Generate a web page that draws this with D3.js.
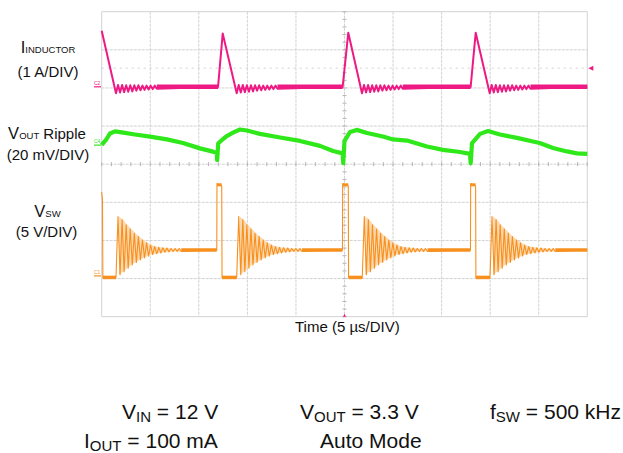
<!DOCTYPE html>
<html>
<head>
<meta charset="utf-8">
<script src="https://cdn.jsdelivr.net/npm/d3@7"></script>
<style>
html,body{margin:0;padding:0;background:#fff;}
svg{display:block;font-family:"Liberation Sans",Arial,sans-serif;}
</style>
</head>
<body>
<svg id="chart" width="623" height="453"></svg>
<script>
// ---------- data ----------
// time axis: 5 us/div, 10 divisions
const timeDivs = [0, 5, 10, 15, 20, 25, 30, 35, 40, 45, 50];
const voltDivs = [-4, -3, -2, -1, 0, 1, 2, 3, 4];

// Inductor current (A), 1 A/div
const iPeakT = [0, 12.46, 25.39, 38.51];
const iPeakA = [1.47, 1.40, 1.42, 1.42];
const iRiseT = [null, 11.98, 24.81, 37.99];
const iZeroT = [1.47, 13.90, 26.80, 39.95];
const iRingLow = [-0.17, -0.15, -0.14, -0.13, -0.12, -0.10, -0.09, -0.08, -0.07, -0.06, -0.05];
const iRingHigh = [0.05, 0.05, 0.05, 0.04, 0.04, 0.04, 0.04, 0.03, 0.03, 0.03, 0.03];
const iTrigA = 0.49;

// Output voltage ripple (mV), 20 mV/div : [time us, mV]
const vOut = [
  [0.0, 0.1], [0.44, 2.7], [0.85, 6.1], [1.37, 7.2], [2.40, 6.4], [3.43, 5.6],
  [4.97, 4.5], [6.72, 3.0], [8.37, 1.1], [10.12, -1.7], [11.46, -3.4], [11.84, -4.1],
  [11.89, -7.8], [12.00, 1.0], [12.39, 2.7], [12.90, 4.8], [13.52, 6.6], [14.24, 8.2],
  [14.96, 7.7], [16.30, 5.9], [18.36, 4.0], [20.42, 2.2], [22.48, -0.4], [23.82, -3.1],
  [24.81, -4.3], [24.87, -9.4], [25.00, 2.2], [25.57, 6.9], [26.26, 8.0], [27.32, 6.4],
  [28.96, 4.5], [29.99, 3.0], [31.44, 2.4], [33.50, -0.7], [35.14, -2.5], [36.90, -3.6],
  [37.92, -4.6], [37.99, -9.4], [38.13, 1.1], [38.96, 5.9], [39.78, 7.4], [41.00, 5.6],
  [42.76, 3.8], [44.40, 1.9], [45.10, 1.1], [46.47, -1.5], [47.90, -3.3], [48.94, -4.3],
  [50.0, -4.6]
];

// Switch node voltage (V), 5 V/div
const swStart = [[0, 11.0], [0.08, 10.0], [0.12, -0.2]];
const swHighT = [[11.87, 12.36], [24.81, 25.39], [37.99, 38.50]];
const swHighV = [12.1, 11.8];
const swLowV = -0.2;
const swSettleV = 3.4;
const swRingStart = [1.47, 13.90, 26.83, 39.98];
const swRingPeaks = [7.8, 7.35, 6.7, 6.15, 5.6, 5.15, 4.7, 4.35, 4.05, 3.85, 3.75, 3.7, 3.65, 3.6, 3.6, 3.6];
const swRingTroughs = [0.15, 0.55, 1.0, 1.45, 1.75, 2.1, 2.35, 2.6, 2.8, 2.9, 3.0, 3.1, 3.15, 3.2, 3.2, 3.2];
const ringHalfPeriod = 0.21;

// channel offsets in divisions
const chOffset = {C2: 2.03, C4: 0.5, C1: -2.93};
const chScale = {C2: 1, C4: 20, C1: 5};

// ---------- drawing ----------
const svg = d3.select("#chart");
const L = 101.7, R = 587.3, T = 11.7, B = 316.7;
const x = d3.scaleLinear().domain([0, 50]).range([L, R]);
const y = d3.scaleLinear().domain([-4, 4]).range([B, T]);
const yCh = (ch, v) => y(chOffset[ch] + v / chScale[ch]);

const PINK = "#ee1a84", GREEN = "#2ee81a", ORANGE = "#f7901e";

// grid
const g = svg.append("g");
g.selectAll(".vg").data(timeDivs).join("line")
  .attr("x1", d => x(d)).attr("x2", d => x(d)).attr("y1", T).attr("y2", B)
  .attr("stroke", "#d2d2d2").attr("stroke-width", 1)
  .attr("stroke-dasharray", d => (d === 0 || d === 50) ? null : "3,1");
g.selectAll(".hg").data(voltDivs).join("line")
  .attr("x1", L).attr("x2", R).attr("y1", d => y(d)).attr("y2", d => y(d))
  .attr("stroke", "#d2d2d2").attr("stroke-width", 1)
  .attr("stroke-dasharray", d => (d === -4 || d === 4) ? null : "3,1");
// center axes minor ticks
g.selectAll(".mx").data(d3.range(0, 50.001, 1)).join("line")
  .attr("x1", d => x(d)).attr("x2", d => x(d)).attr("y1", y(0) - 2).attr("y2", y(0) + 2)
  .attr("stroke", "#b4b4b4");
g.selectAll(".my").data(d3.range(-4, 4.001, 0.2)).join("line")
  .attr("x1", x(25) - 2).attr("x2", x(25) + 2).attr("y1", d => y(d)).attr("y2", d => y(d))
  .attr("stroke", "#b4b4b4");
// trigger level dotted line
g.append("line").attr("x1", L).attr("x2", R)
  .attr("y1", yCh("C2", iTrigA)).attr("y2", yCh("C2", iTrigA))
  .attr("stroke", "#cfcfcf").attr("stroke-dasharray", "2,4");

const line = d3.line().x(d => x(d[0])).y(d => d[1]);

// ---- inductor current ----
let ip = [];
let iFlat = [];
for (let k = 0; k < iPeakT.length; k++) {
  if (iRiseT[k] !== null) ip.push([iRiseT[k], 0]);
  ip.push([iPeakT[k], iPeakA[k]]);
  let t = iZeroT[k];
  ip.push([t, iRingLow[0]]);
  for (let j = 1; j < iRingLow.length; j++) {
    ip.push([t + (2 * j - 1) * ringHalfPeriod, iRingHigh[j]]);
    ip.push([t + 2 * j * ringHalfPeriod, iRingLow[j]]);
  }
  const ringEnd = t + 2 * (iRingLow.length - 1) * ringHalfPeriod;
  const next = (k + 1 < iPeakT.length) ? iRiseT[k + 1] : 50;
  ip.push([next, 0]);
  iFlat.push([ringEnd, next]);
}
const ipPix = ip.map(d => [d[0], yCh("C2", d[1])]);
svg.append("g").selectAll("line").data(iFlat).join("line")
  .attr("x1", d => x(d[0])).attr("x2", d => x(d[1]))
  .attr("y1", yCh("C2", 0)).attr("y2", yCh("C2", 0))
  .attr("stroke", PINK).attr("stroke-width", 4.5);
svg.append("path").attr("d", line(ipPix)).attr("fill", "none")
  .attr("stroke", PINK).attr("stroke-width", 2).attr("stroke-linejoin", "round");

// ---- Vout ripple ----
svg.append("path").attr("d", line(vOut.map(d => [d[0], yCh("C4", d[1])])))
  .attr("fill", "none").attr("stroke", GREEN).attr("stroke-width", 4.2)
  .attr("stroke-linejoin", "round");

// ---- switch node ----
let sp = swStart.slice();
let swFlat = [];
let envelopes = [];
for (let k = 0; k < swRingStart.length; k++) {
  const rs = swRingStart[k];
  sp.push([rs, swLowV]);
  const env = [];
  for (let j = 0; j < swRingPeaks.length; j++) {
    sp.push([rs + (2 * j + 1) * ringHalfPeriod, swRingPeaks[j]]);
    sp.push([rs + (2 * j + 2) * ringHalfPeriod, swRingTroughs[j]]);
    env.push([rs + (2 * j + 1.5) * ringHalfPeriod, swRingPeaks[j], swRingTroughs[j]]);
  }
  envelopes.push(env);
  const ringEnd = rs + 2 * swRingPeaks.length * ringHalfPeriod;
  if (k < swHighT.length) {
    const h = swHighT[k];
    sp.push([h[0] - 0.02, swSettleV]);
    sp.push([h[0], swHighV[0]]);
    sp.push([h[1], swHighV[1]]);
    sp.push([h[1] + 0.03, swLowV]);
    swFlat.push([ringEnd, h[0] - 0.02]);
  } else {
    sp.push([50, swSettleV]);
    swFlat.push([ringEnd, 50]);
  }
}
// pale fill between ringing envelopes (dense ringing appears shaded)
const envArea = d3.area().x(d => x(d[0])).y0(d => yCh("C1", d[2])).y1(d => yCh("C1", d[1]));
svg.append("g").selectAll("path").data(envelopes).join("path")
  .attr("d", envArea).attr("fill", "#fcd9b0");
// low level band segments
const swLowSeg = [[swStart[2][0], swRingStart[0]]].concat(
  swHighT.map((h, k) => [h[1] + 0.03, swRingStart[k + 1]]));
svg.append("g").selectAll("line").data(swFlat).join("line")
  .attr("x1", d => x(d[0])).attr("x2", d => x(d[1]))
  .attr("y1", yCh("C1", swSettleV)).attr("y2", yCh("C1", swSettleV))
  .attr("stroke", ORANGE).attr("stroke-width", 3.5);
svg.append("g").selectAll("line").data(swLowSeg).join("line")
  .attr("x1", d => x(d[0])).attr("x2", d => x(d[1]))
  .attr("y1", yCh("C1", swLowV)).attr("y2", yCh("C1", swLowV))
  .attr("stroke", ORANGE).attr("stroke-width", 3.5);
svg.append("g").selectAll("line").data(swHighT).join("line")
  .attr("x1", d => x(d[0])).attr("x2", d => x(d[1]))
  .attr("y1", yCh("C1", (swHighV[0] + swHighV[1]) / 2)).attr("y2", yCh("C1", (swHighV[0] + swHighV[1]) / 2))
  .attr("stroke", ORANGE).attr("stroke-width", 3);
svg.append("path").attr("d", line(sp.map(d => [d[0], yCh("C1", d[1])])))
  .attr("fill", "none").attr("stroke", ORANGE).attr("stroke-width", 1.1)
  .attr("stroke-linejoin", "round");

// ---- channel markers ----
const markers = [["C2", PINK], ["C4", GREEN], ["C1", ORANGE]];
markers.forEach(([ch, col]) => {
  const yy = yCh(ch, 0);
  svg.append("line").attr("x1", 94).attr("x2", 101).attr("y1", yy).attr("y2", yy)
    .attr("stroke", col).attr("stroke-width", 1.2);
  svg.append("text").attr("x", 94).attr("y", yy - 2).attr("font-size", 5)
    .attr("fill", col).text(ch);
});
// trigger level arrow
const ty = yCh("C2", iTrigA);
svg.append("path").attr("d", `M${R + 1},${ty} L${R + 6},${ty - 2.5} L${R + 6},${ty + 2.5} Z`).attr("fill", PINK);
// trigger position mark
svg.append("path").attr("d", `M${x(25)},${B - 3} L${x(25) - 1.5},${B} L${x(25) + 1.5},${B} Z`).attr("fill", PINK);

// ---- text ----
function label(xc, yb, main, sub, rest, fsMain, fsSub, fsRest) {
  const t = svg.append("text").attr("x", xc).attr("y", yb).attr("text-anchor", "middle").attr("fill", "#111");
  t.append("tspan").attr("font-size", fsMain).text(main);
  if (sub) t.append("tspan").attr("font-size", fsSub).text(sub);
  if (rest) t.append("tspan").attr("font-size", fsRest).text(rest);
}
label(48, 53, "I", "INDUCTOR", null, 16.5, 9.5, 15);
label(48, 77, "(1 A/DIV)", null, null, 15);
label(47, 139, "V", "OUT", " Ripple", 16.5, 9.5, 15);
label(48, 160, "(20 mV/DIV)", null, null, 15);
label(47.5, 217, "V", "SW", null, 16.5, 9.5, 15);
label(46.5, 237, "(5 V/DIV)", null, null, 15);

svg.append("text").attr("x", 295).attr("y", 332).attr("font-size", 15).attr("fill", "#111")
  .text("Time (5 µs/DIV)");

function cond(x0, yb, main, sub, rest) {
  const t = svg.append("text").attr("x", x0).attr("y", yb).attr("font-size", 21).attr("fill", "#111");
  t.append("tspan").text(main);
  t.append("tspan").attr("font-size", 15).attr("dy", 3).text(sub);
  t.append("tspan").attr("dy", -3).text(rest);
}
cond(122, 419, "V", "IN", " = 12 V");
cond(300, 419, "V", "OUT", " = 3.3 V");
cond(490, 419, "f", "SW", " = 500 kHz");
cond(84, 448, "I", "OUT", " = 100 mA");
svg.append("text").attr("x", 320).attr("y", 448).attr("font-size", 21).attr("fill", "#111").text("Auto Mode");
</script>
</body>
</html>
